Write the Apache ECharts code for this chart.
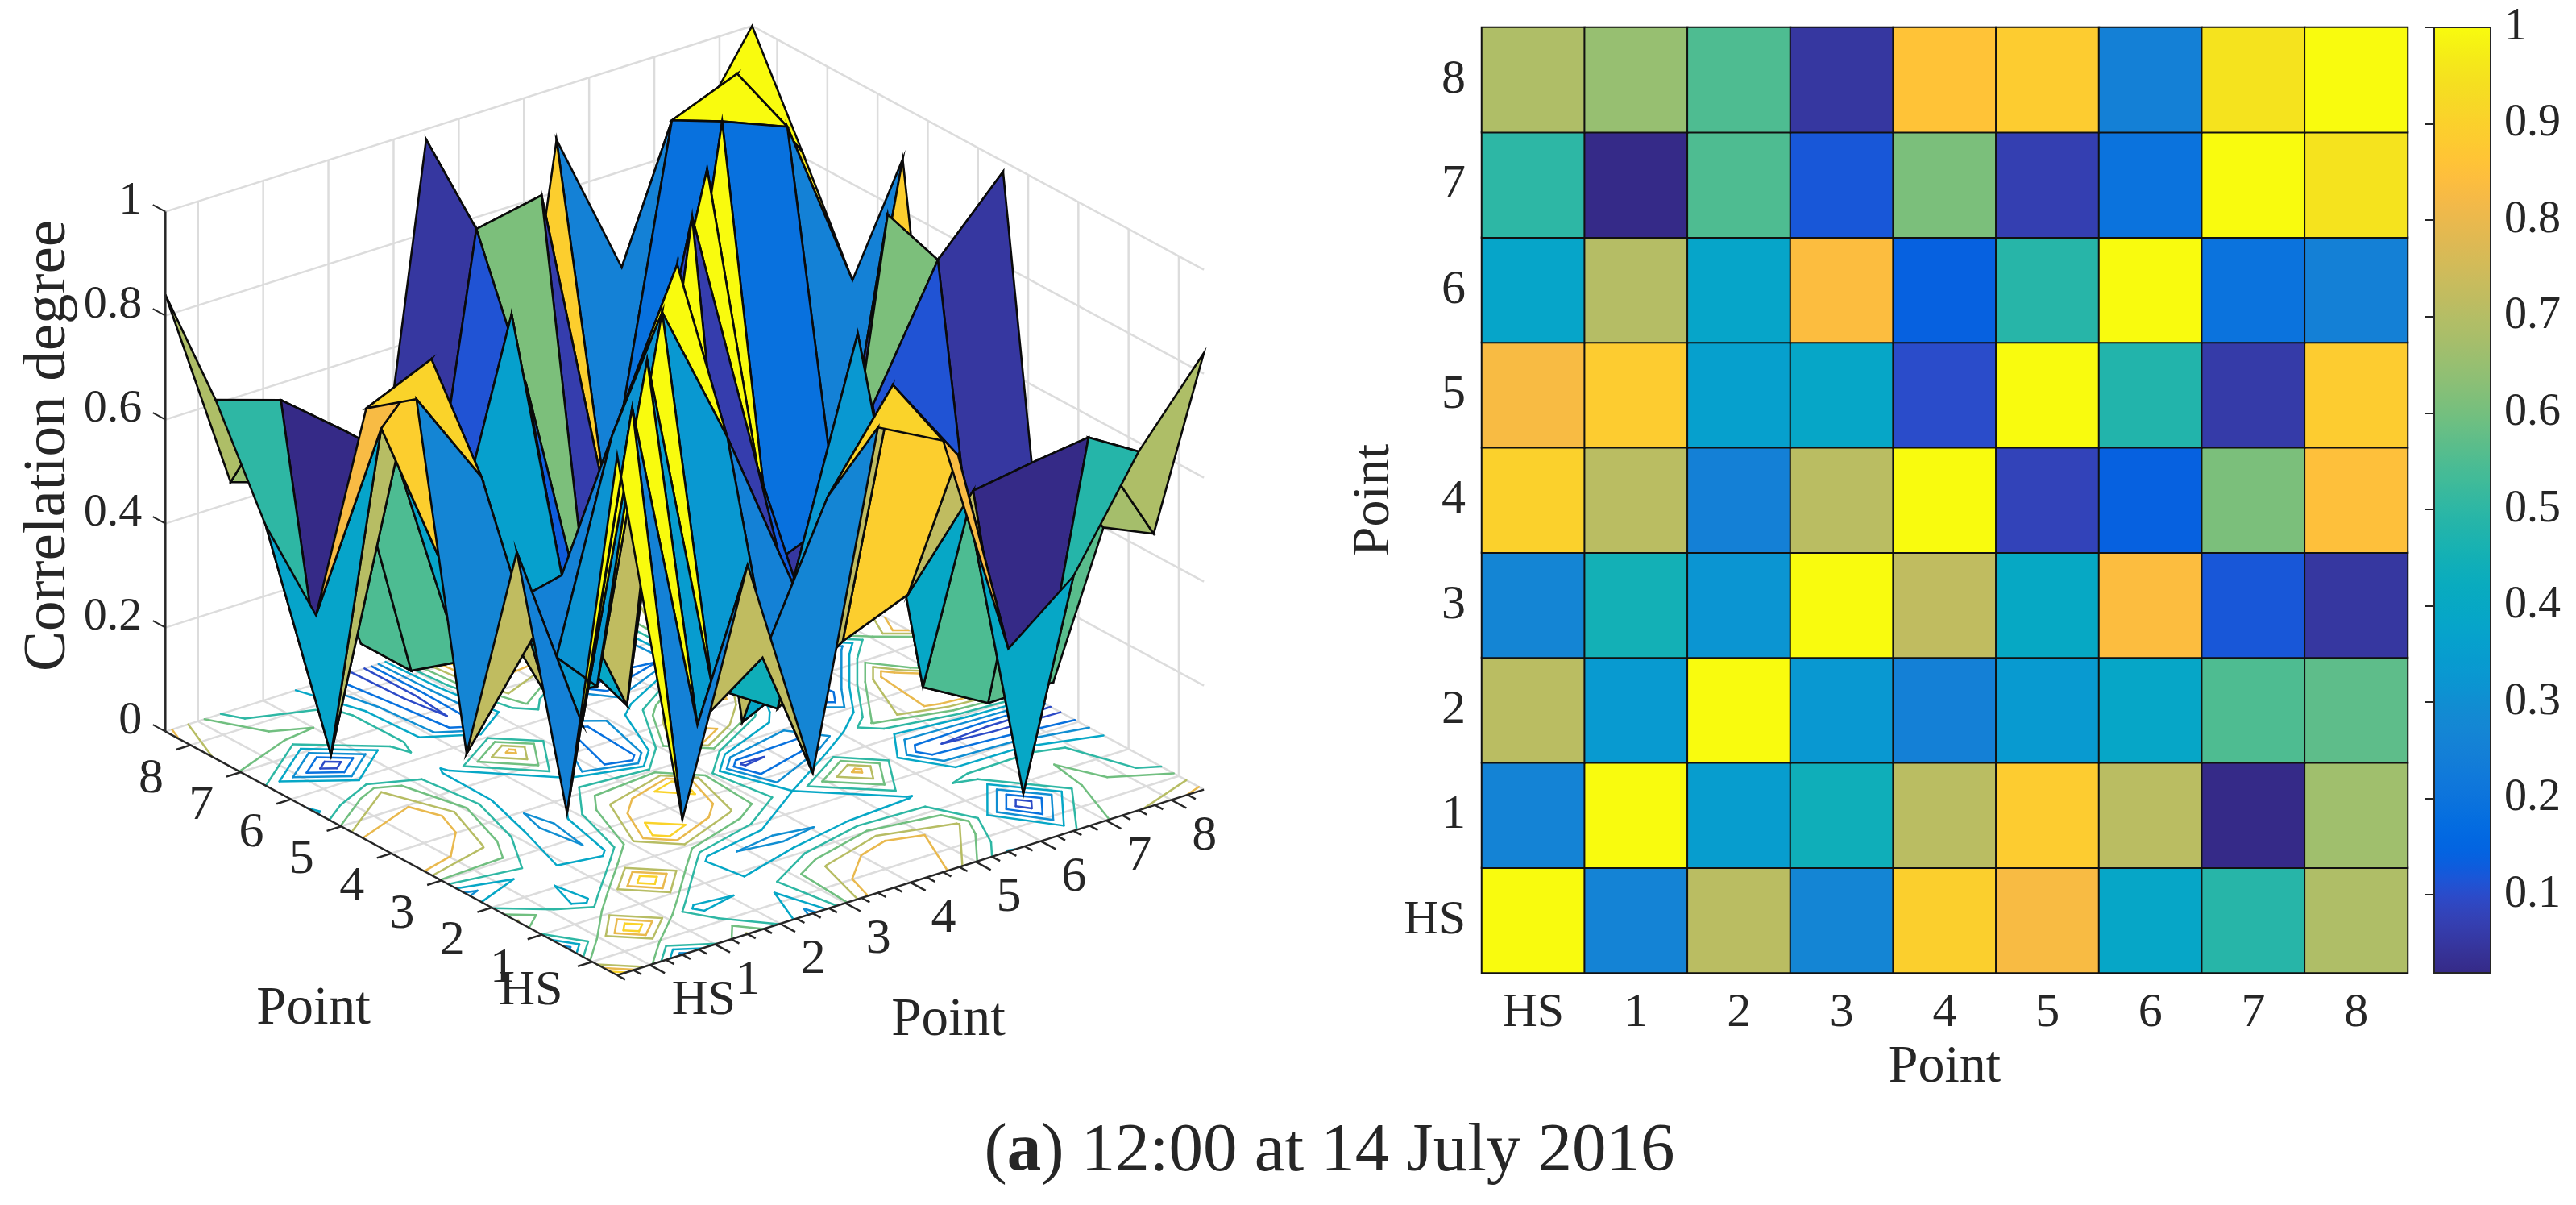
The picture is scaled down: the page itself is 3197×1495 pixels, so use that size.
<!DOCTYPE html>
<html lang="en">
<head>
<meta charset="utf-8">
<title>Correlation degree, 12:00 at 14 July 2016</title>
<script src="https://cdn.jsdelivr.net/npm/echarts@6/dist/echarts.min.js"></script>
<style>html,body{margin:0;background:#fff}#main{width:3197px;height:1495px}</style>
</head>
<body>
<div id="main"></div>
<script type="text/javascript">
var points = ['HS', '1', '2', '3', '4', '5', '6', '7', '8'];
var zTicks = [0, 0.2, 0.4, 0.6, 0.8, 1];
var barTicks = [0.1, 0.2, 0.3, 0.4, 0.5, 0.6, 0.7, 0.8, 0.9, 1];
var contourLevels = [0.1, 0.2, 0.3, 0.4, 0.5, 0.6, 0.7, 0.8, 0.9];

// HS row first
var rowHS = [1, 0.26, 0.71, 0.27, 0.895, 0.83, 0.39, 0.49, 0.69];
var row1 = [0.26, 1, 0.35, 0.44, 0.71, 0.885, 0.71, 0.02, 0.665];
var row2 = [0.71, 0.34, 1, 0.33, 0.25, 0.34, 0.39, 0.55, 0.57];
var row3 = [0.27, 0.45, 0.32, 1, 0.72, 0.40, 0.84, 0.12, 0.05];
var row4 = [0.90, 0.71, 0.25, 0.71, 1, 0.08, 0.14, 0.61, 0.85];
var row5 = [0.83, 0.885, 0.36, 0.39, 0.10, 1, 0.48, 0.06, 0.885];
var row6 = [0.38, 0.70, 0.38, 0.84, 0.14, 0.49, 1, 0.20, 0.25];
var row7 = [0.50, 0.02, 0.55, 0.12, 0.61, 0.07, 0.20, 1, 0.95];
var row8 = [0.69, 0.65, 0.55, 0.05, 0.86, 0.885, 0.25, 0.95, 1];
// tenth point, only seen as the far edge of the surface
var row9 = [0.84, 0.44, 0.40, 0.05, 0.98, 0.06, 0.90, 0.615, 0.81, 1];

var parula = ['#352a87','#363093','#3637a0','#353dad','#3243ba','#2c4ac7','#2053d4','#0f5cdd','#0363e1','#0268e1','#046de0','#0871de','#0d75dc','#1079da','#127dd8','#1481d6','#1485d4','#1389d3','#108ed2','#0c93d2','#0998d1','#079ccf','#06a0cd','#06a4ca','#06a7c6','#07a9c2','#0aacbe','#0faeb9','#15b1b4','#1db3af','#25b5a9','#2eb7a4','#38b99e','#42bb98','#4dbc92','#59bd8c','#65be86','#71bf80','#7cbf7b','#87bf77','#92bf73','#9cbf6f','#a5be6b','#aebe67','#b7bd64','#c0bc60','#c8bc5d','#d1bb59','#d9ba56','#e1b952','#e9b94e','#f1b94a','#f8bb44','#fdbe3d','#ffc337','#fec832','#fcce2e','#fad32a','#f7d826','#f5de21','#f5e41d','#f5eb18','#f6f313','#f9fb0e'];

var barMin = 0.019, barMax = 1;
var rows = [rowHS, row1, row2, row3, row4, row5, row6, row7, row8];
var surf = rows.map(function (r, b) { return r.concat([row9[b]]); }).concat([row9]);

function colorOf(v) {
    var i = Math.floor((v - barMin) / (barMax - barMin) * parula.length);
    return parula[Math.max(0, Math.min(parula.length - 1, i))];
}

// view of the 3d axes: a runs to the right, b to the left, both measured in grid steps
function project(a, b, z) {
    return [a * 80.9 - b * 62.3, a * 25.6 + b * 33.6 + z * 645];
}

function lineSeries(rowsOfLines, color, width, z) {
    return {
        type: 'custom', xAxisIndex: 0, yAxisIndex: 0, z: z, clip: false, silent: true,
        data: rowsOfLines,
        renderItem: function (params, api) {
            var p = api.coord(project(api.value(0), api.value(1), api.value(2)));
            var q = api.coord(project(api.value(3), api.value(4), api.value(5)));
            return {
                type: 'line',
                shape: { x1: p[0], y1: p[1], x2: q[0], y2: q[1] },
                style: { stroke: color, lineWidth: width }
            };
        }
    };
}

function textSeries(items, z) {
    return {
        type: 'custom', xAxisIndex: 0, yAxisIndex: 0, z: z, clip: false, silent: true,
        data: items.map(function (t) { return [t.a, t.b, t.z, t.dx, t.dy]; }),
        renderItem: function (params, api) {
            var p = api.coord(project(api.value(0), api.value(1), api.value(2)));
            var item = items[params.dataIndex];
            return {
                type: 'text',
                x: p[0] + api.value(3), y: p[1] + api.value(4),
                style: {
                    text: item.text,
                    font: item.size + 'px "Liberation Serif"', fill: '#262626',
                    align: item.align || 'center', verticalAlign: 'middle'
                }
            };
        }
    };
}

// marching squares over the surface, drawn on the floor
function contourSegments(level) {
    var segs = [];
    function cut(a0, b0, v0, a1, b1, v1) {
        var t = (level - v0) / (v1 - v0);
        return [a0 + (a1 - a0) * t, b0 + (b1 - b0) * t];
    }
    for (var b = 0; b < 9; b++) {
        for (var a = 0; a < 9; a++) {
            var v = [surf[b][a], surf[b][a + 1], surf[b + 1][a + 1], surf[b + 1][a]];
            var c = [[a, b], [a + 1, b], [a + 1, b + 1], [a, b + 1]];
            var hits = [];
            for (var k = 0; k < 4; k++) {
                var n = (k + 1) % 4;
                if ((v[k] >= level) !== (v[n] >= level)) {
                    hits.push(cut(c[k][0], c[k][1], v[k], c[n][0], c[n][1], v[n]));
                }
            }
            if (hits.length === 2) {
                segs.push([hits[0][0], hits[0][1], hits[1][0], hits[1][1]]);
            } else if (hits.length === 4) {
                var mid = (v[0] + v[1] + v[2] + v[3]) / 4;
                if ((mid >= level) === (v[0] >= level)) {
                    segs.push([hits[0][0], hits[0][1], hits[1][0], hits[1][1]]);
                    segs.push([hits[2][0], hits[2][1], hits[3][0], hits[3][1]]);
                } else {
                    segs.push([hits[3][0], hits[3][1], hits[0][0], hits[0][1]]);
                    segs.push([hits[1][0], hits[1][1], hits[2][0], hits[2][1]]);
                }
            }
        }
    }
    return segs;
}

var contourData = [];
contourLevels.forEach(function (level) {
    contourSegments(level).forEach(function (s) {
        contourData.push([s[0], s[1], s[2], s[3], level]);
    });
});

// far cells first, so nearer cells paint over them
var facets = [];
for (var fa = 8; fa >= 0; fa--) {
    for (var fb = 8; fb >= 0; fb--) {
        facets.push([fa, fb]);
    }
}

var gridLines = [], zTickLines = [], tickLines = [], axisLines = [];
for (var k = 0; k < 9; k++) {
    var t = k + 0.5;
    gridLines.push([t, 0, 0, t, 9, 0], [0, t, 0, 9, t, 0]);
    gridLines.push([t, 9, 0, t, 9, 1], [9, t, 0, 9, t, 1]);
    tickLines.push([0, t, 0, -0.22, t, 0], [t, 0, 0, t, -0.3, 0]);
}
for (var m = 0; m < 36; m++) {
    if (m % 4 !== 2) tickLines.push([m / 4, 0, 0, m / 4, -0.16, 0]);
}
zTicks.forEach(function (z) {
    gridLines.push([0, 9, z, 9, 9, z], [9, 9, z, 9, 0, z]);
    zTickLines.push([0, 9, z, 0, 9.25, z]);
});
axisLines.push([0, 9, 0, 0, 0, 0], [0, 0, 0, 9, 0, 0], [0, 9, 0, 0, 9, 1]);

var labels3d = [];
points.forEach(function (p, i) {
    labels3d.push({ text: p, size: 62, a: 0, b: i + 0.5, z: 0, dx: i === 0 ? -76 : -49, dy: i === 0 ? 37 : 42 });
    labels3d.push({ text: p, size: 62, a: i + 0.5, b: 0, z: 0, dx: i === 0 ? 67 : 41, dy: 45 });
});
zTicks.forEach(function (z) {
    labels3d.push({ text: String(z), size: 58, align: 'right', a: 0, b: 9, z: z, dx: -29, dy: -13 });
});

var heatData = [];
rows.forEach(function (r, y) {
    r.forEach(function (v, x) { heatData.push([x, y, v]); });
});

var myChart = echarts.init(document.getElementById('main'));
var serif = '"Liberation Serif"';

var option = {
    animation: false,
    backgroundColor: '#fff',
    title: {
        text: '{n|(}{b|a}{n|) 12:00 at 14 July 2016}',
        left: 1645, top: 1382, textAlign: 'center',
        textStyle: {
            fontWeight: 'normal',
            rich: {
                n: { fontFamily: serif, fontSize: 85, fontWeight: 'normal', color: '#262626' },
                b: { fontFamily: serif, fontSize: 85, fontWeight: 'bold', color: '#262626' }
            }
        }
    },
    grid: [
        { left: 205, top: 33, width: 1289, height: 1177 },
        { left: 1839, top: 34, width: 1149, height: 1173 },
        { left: 3021, top: 34, width: 70, height: 1173, show: true, borderColor: '#262626', borderWidth: 2, backgroundColor: 'transparent', z: 6 }
    ],
    xAxis: [
        { type: 'value', gridIndex: 0, min: -561, max: 728, show: false },
        {
            type: 'category', gridIndex: 1, data: points, position: 'bottom',
            name: 'Point', nameLocation: 'middle', nameGap: 84,
            nameTextStyle: { fontFamily: serif, fontSize: 66, color: '#262626' },
            axisLine: { lineStyle: { color: '#262626', width: 2 } },
            axisTick: { show: false },
            axisLabel: { fontFamily: serif, fontSize: 60, color: '#262626', margin: 20 }
        },
        { type: 'value', gridIndex: 2, min: 0, max: 1, show: false }
    ],
    yAxis: [
        { type: 'value', gridIndex: 0, min: 0, max: 1177, show: false },
        {
            type: 'category', gridIndex: 1, data: points,
            name: 'Point', nameLocation: 'middle', nameGap: 98,
            nameTextStyle: { fontFamily: serif, fontSize: 66, color: '#262626' },
            axisLine: { lineStyle: { color: '#262626', width: 2 } },
            axisTick: { show: false },
            axisLabel: { fontFamily: serif, fontSize: 60, color: '#262626', margin: 20 }
        },
        {
            type: 'value', gridIndex: 2, position: 'right', min: barMin, max: barMax, z: 6,
            splitLine: { show: false },
            axisLine: { show: false },
            axisTick: { show: true, inside: true, length: 12, customValues: barTicks, lineStyle: { color: '#262626', width: 2 } },
            axisLabel: {
                show: true, fontFamily: serif, fontSize: 56, color: '#262626', margin: 17, padding: [8, 0, 0, 0],
                customValues: barTicks, formatter: function (v) { return String(v); }
            }
        }
    ],
    visualMap: {
        type: 'continuous', seriesIndex: 0, dimension: 2,
        min: barMin, max: barMax, calculable: false, hoverLink: false, realtime: false,
        left: 3021, top: 34, itemWidth: 70, itemHeight: 1173, padding: 0, text: null, showLabel: false,
        inRange: { color: parula }, z: 3
    },
    graphic: [
        { type: 'text', x: 60, y: 553, rotation: Math.PI / 2, style: { text: 'Correlation degree', font: '75px ' + serif, fill: '#262626', align: 'center', verticalAlign: 'middle' } },
        { type: 'text', x: 389, y: 1252, style: { text: 'Point', font: '67px ' + serif, fill: '#262626', align: 'center', verticalAlign: 'middle' } },
        { type: 'text', x: 1177, y: 1266, style: { text: 'Point', font: '67px ' + serif, fill: '#262626', align: 'center', verticalAlign: 'middle' } }
    ],
    series: [
        {
            type: 'heatmap', xAxisIndex: 1, yAxisIndex: 1, data: heatData, silent: true,
            itemStyle: { borderColor: '#111', borderWidth: 2 }
        },
        lineSeries(gridLines, '#dcdcdc', 2.5, 1),
        {
            type: 'custom', xAxisIndex: 0, yAxisIndex: 0, z: 2, clip: false, silent: true,
            data: contourData,
            renderItem: function (params, api) {
                var p = api.coord(project(api.value(0), api.value(1), 0));
                var q = api.coord(project(api.value(2), api.value(3), 0));
                return {
                    type: 'line',
                    shape: { x1: p[0], y1: p[1], x2: q[0], y2: q[1] },
                    style: { stroke: colorOf(api.value(4)), lineWidth: 2.5, lineCap: 'round' }
                };
            }
        },
        {
            type: 'custom', xAxisIndex: 0, yAxisIndex: 0, z: 3, clip: false, silent: true,
            data: facets,
            renderItem: function (params, api) {
                var a = api.value(0), b = api.value(1);
                var corners = [[a, b], [a + 1, b], [a + 1, b + 1], [a, b + 1]].map(function (c) {
                    return api.coord(project(c[0], c[1], surf[c[1]][c[0]]));
                });
                return {
                    type: 'polygon',
                    shape: { points: corners },
                    style: { fill: colorOf(surf[b][a]), stroke: '#0a0a0a', lineWidth: 2.6, lineJoin: 'miter', miterLimit: 12 }
                };
            }
        },
        lineSeries(axisLines, '#262626', 2.5, 4),
        lineSeries(tickLines, '#262626', 2.5, 4),
        lineSeries(zTickLines, '#262626', 2, 4),
        textSeries(labels3d, 5)
    ]
};

option && myChart.setOption(option);
</script>
</body>
</html>
